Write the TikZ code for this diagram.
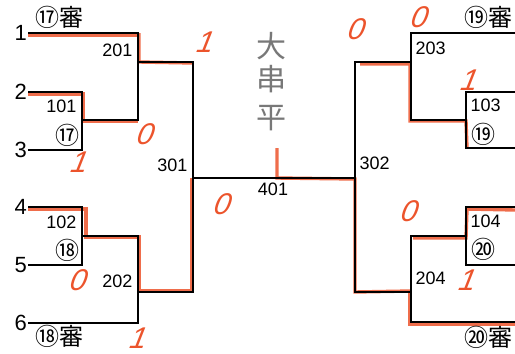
\documentclass[tikz,border=0pt]{standalone}
\usepackage{fontspec}
\setmainfont{Liberation Sans}
\newfontfamily\jpfont{Noto Sans CJK JP}
\usetikzlibrary{positioning}
\usetikzlibrary{calc}
\definecolor{redpen}{RGB}{236,84,44}
\definecolor{pencil}{RGB}{120,120,120}

\begin{document}
\begin{tikzpicture}[x=1pt,y=-1pt,
    bline/.style={line width=1.3pt, black},
    win/.style={line width=3.4pt, draw=redpen, opacity=0.85},
    score/.style={text=redpen, font=\fontsize{30}{30}\selectfont\itshape, xslant=0.2, inner sep=0pt},
    team/.style={font=\fontsize{22}{22}\selectfont},
    game/.style={font=\fontsize{18}{18}\selectfont},
    ref/.style={font=\jpfont\fontsize{24}{24}\selectfont, inner sep=0pt}]
		\useasboundingbox (0,0) rectangle (515,354);

		% Define the coordinates of the points
		\coordinate (t1) at (28,33);
		\coordinate (t2) at (28,92);
		\coordinate (t3) at (28,150);
		\coordinate (t4) at (28,207);
		\coordinate (t5) at (28,265);
		\coordinate (t6) at (28,323);
		\coordinate (a101) at (82,92);
		\coordinate (b101) at (82,150);
		\coordinate (a102) at (82,207);
		\coordinate (b102) at (82,265);
		\coordinate (a201) at (138,33);
		\coordinate (m201) at (138,62);
		\coordinate (b201) at (138,120);
		\coordinate (a202) at (138,236);
		\coordinate (m202) at (138,292);
		\coordinate (b202) at (138,323);
		\coordinate (a301) at (193,62);
		\coordinate (m301) at (193,178);
		\coordinate (b301) at (193,292);
		\coordinate (w401) at (277,148);
		\coordinate (m401) at (277,178);
		\coordinate (a302) at (355,62);
		\coordinate (m302) at (355,178);
		\coordinate (b302) at (355,292);
		\coordinate (a203) at (411,33);
		\coordinate (m203) at (411,62);
		\coordinate (b203) at (411,120);
		\coordinate (a204) at (411,236);
		\coordinate (m204) at (411,292);
		\coordinate (b204) at (411,322);
		\coordinate (a103) at (466,92);
		\coordinate (b103) at (466,148);
		\coordinate (a104) at (466,207);
		\coordinate (b104) at (466,265);
		\coordinate (r1) at (515,33);
		\coordinate (r2) at (515,92);
		\coordinate (r3) at (515,148);
		\coordinate (r4) at (515,207);
		\coordinate (r5) at (515,265);
		\coordinate (r6) at (515,322);

		% Red pen: winners
		\draw[win] ($(t1)+(0,2)$) -- ($(a201)+(0,2)$);
		\draw[win] ($(a201)+(1,0)$) -- ($(m201)+(1,0)$) -- ($(a301)+(0,1)$);
		\draw[win] ($(t2)+(0,2)$) -- ($(a101)+(1,2)$) -- ($(b201)+(-55,1)$) -- ($(b201)+(0,1)$);
		\draw[win] ($(t4)+(0,2)$) -- ($(a102)+(4,2)$) -- ($(a202)+(-52,1)$) -- ($(a202)+(1,1)$)
		           -- ($(m202)+(1,-1)$) -- ($(b301)+(-1,-1)$) -- ($(m301)+(-1,0)$);
		\draw[win] (w401) -- (m401) -- ($(m302)+(0,1)$) -- ($(b302)+(0,0)$) -- ($(m204)+(0,-1)$);
		\draw[win] ($(m204)+(-1,0)$) -- ($(b204)+(-1,2)$) -- ($(r6)+(0,2)$);
		\draw[win] ($(a302)+(5,2)$) -- ($(m203)+(-1,2)$) -- ($(b203)+(-1,1)$) -- ($(b203)+(55,1)$)
		           -- ($(b103)+(1,0)$);
		\draw[win] ($(a204)+(2,2)$) -- ($(a204)+(55,2)$) -- ($(a104)+(1,2)$) -- ($(r4)+(0,3)$);

		% Draw the lines
		\draw[bline] (t1) -- (a201) -- (b201) -- (b201 -| a101);
		\draw[bline] (t2) -- (a101) -- (b101) -- (t3);
		\draw[bline] (t4) -- (a102) -- (b102) -- (t5);
		\draw[bline] (a102 |- a202) -- (a202) -- (b202) -- (t6);
		\draw[bline] (m201) -- (a301) -- (b301) -- (m202);
		\draw[bline] (m301) -- (m302);
		\draw[bline] (m203) -- (a302) -- (b302) -- (m204);
		\draw[bline] (r1) -- (a203) -- (b203) -- (b203 -| a103);
		\draw[bline] (r2) -- (a103) -- (b103) -- (r3);
		\draw[bline] (r4) -- (a104) -- (b104) -- (r5);
		\draw[bline] (a104 |- a204) -- (a204) -- (b204) -- (r6);

		\foreach \point/\label in {t1/1, t2/2, t3/3, t4/4, t5/5, t6/6}
		\node[team, anchor=east, inner sep=1pt] (n\label) at (\point) {\label};

		% Game numbers
		\node[game, anchor=east] (g201) at (136,50) {201};
		\node[game, anchor=east] (g101) at (80,106) {101};
		\node[game, anchor=east] (g102) at (80,222) {102};
		\node[game, anchor=east] (g202) at (136,281) {202};
		\node[game, anchor=east] (g301) at (191,165) {301};
		\node[game] (g401) at (273,189) {401};
		\node[game, anchor=west] (g302) at (356,163) {302};
		\node[game, anchor=west] (g203) at (412,48) {203};
		\node[game, anchor=west] (g103) at (467,105) {103};
		\node[game, anchor=west] (g104) at (467,221) {104};
		\node[game, anchor=west] (g204) at (412,278) {204};

		% Referees
		\node[ref] (s17) at (67,135) {⑰};
		\node[ref] (s18) at (67,250) {⑱};
		\node[ref] (s19) at (483,134) {⑲};
		\node[ref] (s20) at (483,249) {⑳};
		\node[ref] (j17) at (59,17) {⑰審};
		\node[ref] (j18) at (59,336) {⑱審};
		\node[ref] (j19) at (488,17) {⑲審};
		\node[ref] (j20) at (488,337) {⑳審};

		% Pencil name
		\node[text=pencil, font=\jpfont\fontsize{30}{30}\selectfont, align=center, inner sep=0pt]
		     (name) at (271,82) {大\\[3pt]串\\[8pt]平};

		% Scores
		\foreach \point/\label in {{(206,42)}/1, {(146,134)}/0, {(80,162)}/1, {(223,204)}/0,
		                          {(79,280)}/0, {(139,338)}/1, {(357,29)}/0, {(420,17)}/0,
		                          {(470,80)}/1, {(410,211)}/0, {(468,280)}/1}
		\node[score] at \point {\label};
     \end{tikzpicture}
\end{document}
